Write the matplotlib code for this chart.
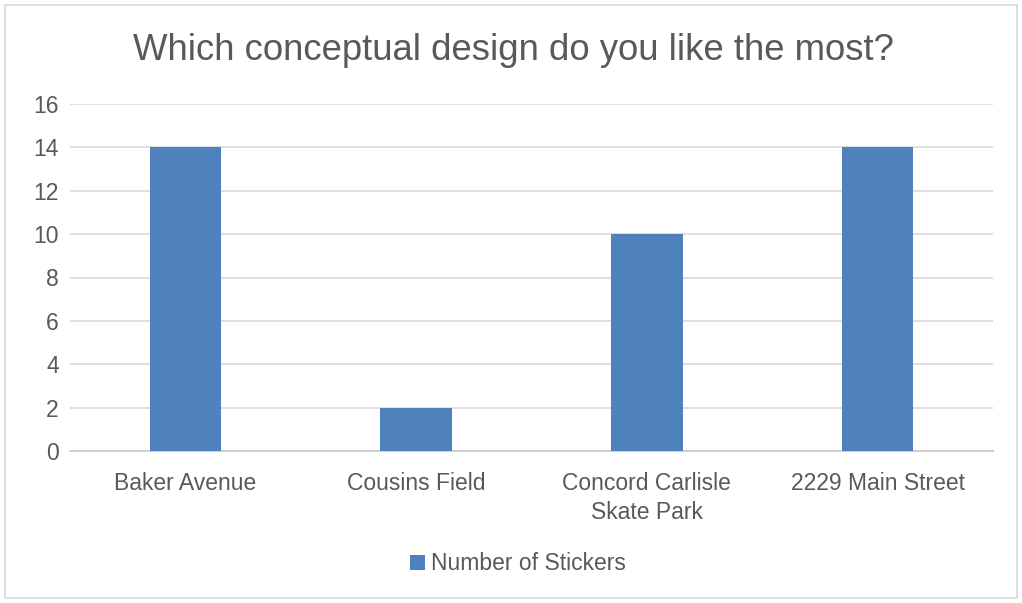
import matplotlib
matplotlib.use("Agg")
import matplotlib.pyplot as plt
from matplotlib.patches import Rectangle

categories = ["Baker Avenue", "Cousins Field", "Concord Carlisle\nSkate Park", "2229 Main Street"]
stickers = [14, 2, 10, 14]
series_name = "Number of Stickers"
title = "Which conceptual design do you like the most?"
yticks = [0, 2, 4, 6, 8, 10, 12, 14, 16]

plt.rcParams['font.family'] = ['Liberation Sans', 'DejaVu Sans']
txt = '#595959'
bar_color = '#4f81bd'
fs = 16.5

fig = plt.figure(figsize=(10.22, 6.03), dpi=100)
fig.patches.append(Rectangle((5/1022, 5/603), 1012/1022, 593/603, transform=fig.transFigure,
                             fill=False, edgecolor='#d9d9d9', linewidth=1.2))
ax = fig.add_axes([70/1022, 1-451/603, 923/1022, (451-104)/603])
x = list(range(len(categories)))
ax.bar(x, stickers, width=0.31, color=bar_color, label=series_name, zorder=3)
ax.set_xlim(-0.5, len(categories)-0.5)
ax.set_ylim(0, 16)
ax.set_yticks(yticks)
ax.set_xticks(x)
ax.set_xticklabels(categories, fontsize=fs, color=txt, linespacing=1.33)
ax.tick_params(axis='y', labelsize=fs, labelcolor=txt, length=0, pad=8)
ax.tick_params(axis='x', length=0, pad=15)
ax.grid(axis='y', color='#d9d9d9', linewidth=1.2, zorder=0)
for s in ['top', 'right', 'left']:
    ax.spines[s].set_visible(False)
ax.spines['bottom'].set_color('#d0d0d0')
ax.spines['bottom'].set_linewidth(1.5)

fig.text(513/1022, 1-51/603, title, ha='center', va='center', fontsize=26.3, color=txt)
leg = fig.legend(loc='center', bbox_to_anchor=(518/1022, 1-564/603), frameon=False,
                 fontsize=fs, handlelength=0.65, handleheight=0.65, handletextpad=0.3)
for t in leg.get_texts():
    t.set_color(txt)

fig.savefig("out.png", dpi=100)
